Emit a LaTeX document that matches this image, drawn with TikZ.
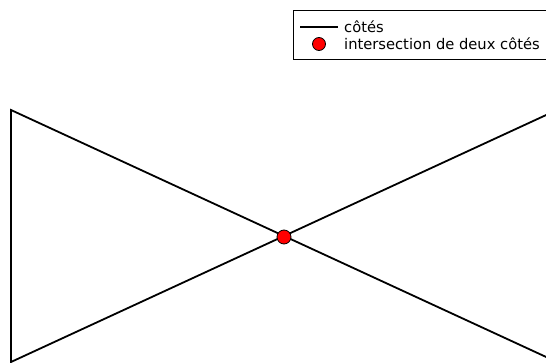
\documentclass[tikz,border=0pt]{standalone}
\usepackage{fontspec}
\setmainfont{DejaVu Sans}
\begin{document}
\begin{tikzpicture}[x=1pt,y=-1pt,
  side/.style={line width=1.8pt,line join=miter},
  dot/.style={circle,fill=red,draw=black,line width=0.8pt,minimum size=14pt,inner sep=0pt},
  legtext/.style={anchor=west,font=\fontsize{14.7}{15}\selectfont,inner sep=0pt}]
\useasboundingbox (0,0) rectangle (546,363);
\begin{scope}
\clip (0,0) rectangle (546,363);
\coordinate (A) at (11,110);
\coordinate (B) at (557,362);
\coordinate (C) at (557,110);
\coordinate (D) at (11,362);
\draw[side] (D) -- (A) -- (B) -- (C) -- cycle;
\node[dot] (X) at (284,237) {};
% legend
\draw[line width=0.8pt,fill=white] (293,10) rectangle (548,59);
\coordinate (L1) at (300,27);
\coordinate (L2) at (338,27);
\draw[line width=1.1pt] (L1) -- (L2);
\node[legtext] (t1) at (344,27) {côtés};
\node[dot,minimum size=13pt] (ld) at (319,44) {};
\node[legtext] (t2) at (344,44) {intersection de deux côtés};
\end{scope}
\end{tikzpicture}
\end{document}
